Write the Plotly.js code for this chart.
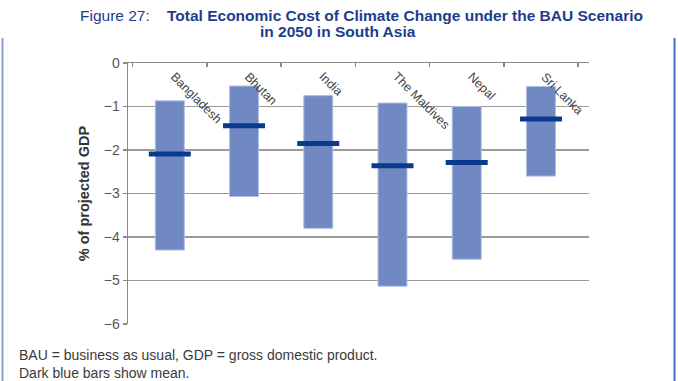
<!DOCTYPE html>
<html>
<head>
<meta charset="utf-8">
<script src="https://cdn.plot.ly/plotly-3.0.1.min.js"></script>
<style>html,body{margin:0;padding:0;background:#fff;}#chart{width:678px;height:381px;}</style>
</head>
<body>
<div id="chart"></div>
<script>
const countries = ["Bangladesh", "Bhutan", "India", "The Maldives", "Nepal", "Sri Lanka"];
const rangeTop = [-0.87, -0.53, -0.75, -0.92, -1.0, -0.54];
const rangeBottom = [-4.3, -3.07, -3.8, -5.13, -4.51, -2.6];
const meanValues = [-2.09, -1.44, -1.85, -2.36, -2.29, -1.29];
const yTicks = [0, -1, -2, -3, -4, -5, -6];
const yTickLabels = ["0", "\u22121", "\u22122", "\u22123", "\u22124", "\u22125", "\u22126"];

const font = "Liberation Sans, Arial, Helvetica, sans-serif";
const titleBlue = "#1c3d8c";

const barTrace = {
  type: "bar",
  x: countries,
  base: rangeTop,
  y: rangeTop.map((t, i) => rangeBottom[i] - t),
  width: 0.39,
  marker: { color: "#7189c3", line: { color: "#aebde3", width: 1 } },
  hoverinfo: "skip"
};
const meanTrace = {
  type: "scatter",
  mode: "markers",
  x: countries,
  y: meanValues,
  marker: { symbol: "line-ew", size: 30, line: { color: "#0a3a8e", width: 5 } },
  hoverinfo: "skip"
};

function px(x) { return (x - 128) / 461; }
function py(y) { return (324 - y) / 261; }

const categoryLabels = countries.map(c => ({
  text: c, xref: "x", yref: "y", x: c, y: 0,
  xanchor: "left", yanchor: "top", xshift: -5, yshift: -4,
  textangle: 45, showarrow: false,
  font: { family: font, size: 12.5, color: "#444" }
}));

const layout = {
  width: 678, height: 381,
  margin: { l: 128, r: 89, t: 63, b: 57 },
  paper_bgcolor: "#fff", plot_bgcolor: "#fff",
  showlegend: false,
  font: { family: font, color: "#555" },
  xaxis: {
    type: "category",
    side: "top",
    showline: true, linecolor: "#8a8a8a", linewidth: 1.5,
    showgrid: false,
    ticks: "inside", ticklen: 4, tickcolor: "#8a8a8a", tickwidth: 1.5,
    tickson: "boundaries",
    showticklabels: false,
    fixedrange: true
  },
  yaxis: {
    range: [-6, 0],
    tickvals: yTicks, ticktext: yTickLabels,
    showline: true, linecolor: "#8a8a8a", linewidth: 1.5,
    showgrid: true, gridcolor: "#9a9a9a", gridwidth: 1.5,
    zeroline: false,
    ticks: "outside", ticklen: 4, tickcolor: "#8a8a8a", tickwidth: 1.5,
    tickfont: { family: font, size: 14, color: "#555" },
    title: { text: "<b>% of projected GDP</b>", font: { family: font, size: 14.5, color: "#333" }, standoff: 10 },
    fixedrange: true
  },
  annotations: categoryLabels.concat([
    { text: "Figure 27:", xref: "paper", yref: "paper", x: px(78), y: py(15), xanchor: "left", yanchor: "middle", showarrow: false, font: { family: font, size: 15.5, color: titleBlue } },
    { text: "<b>Total Economic Cost of Climate Change under the BAU Scenario</b>", xref: "paper", yref: "paper", x: px(165), y: py(15), xanchor: "left", yanchor: "middle", showarrow: false, font: { family: font, size: 15.5, color: titleBlue } },
    { text: "<b>in 2050 in South Asia</b>", xref: "paper", yref: "paper", x: px(338), y: py(31), xanchor: "center", yanchor: "middle", showarrow: false, font: { family: font, size: 15.5, color: titleBlue } },
    { text: "BAU = business as usual, GDP = gross domestic product.", xref: "paper", yref: "paper", x: px(17), y: py(355), xanchor: "left", yanchor: "middle", showarrow: false, font: { family: font, size: 14, color: "#3a3a3a" } },
    { text: "Dark blue bars show mean.", xref: "paper", yref: "paper", x: px(17), y: py(373), xanchor: "left", yanchor: "middle", showarrow: false, font: { family: font, size: 14, color: "#3a3a3a" } }
  ]),
  shapes: [
    { type: "line", xref: "paper", yref: "paper", x0: px(2.5), x1: px(2.5), y0: py(38), y1: py(381), line: { color: "#8e9fcf", width: 2 } },
    { type: "line", xref: "paper", yref: "paper", x0: px(674.5), x1: px(674.5), y0: py(38), y1: py(381), line: { color: "#4472c4", width: 2 } }
  ]
};

Plotly.newPlot("chart", [barTrace, meanTrace], layout, { staticPlot: true, displayModeBar: false });
</script>
</body>
</html>
